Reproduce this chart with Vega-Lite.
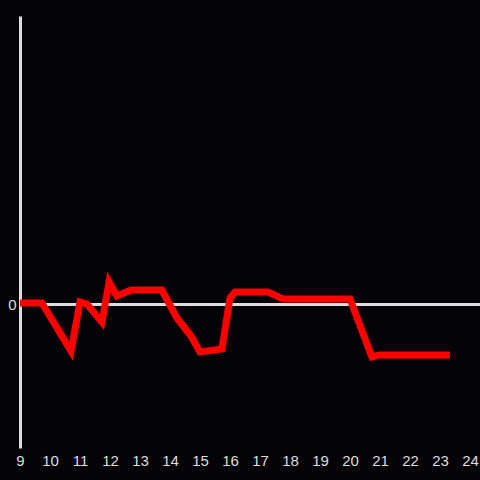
{
  "$schema": "https://vega.github.io/schema/vega-lite/v6.json",
  "width": 460,
  "height": 432,
  "autosize": {"type": "none"},
  "padding": {"left": 20, "top": 16, "right": 0, "bottom": 32},
  "background": "#050308",
  "config": {"view": {"stroke": null}},
  "data": {"values": [
    {"t": 9.0, "v": 1},
    {"t": 9.73, "v": 1},
    {"t": 10.7, "v": -47},
    {"t": 11.0, "v": 2},
    {"t": 11.23, "v": 0},
    {"t": 11.73, "v": -18},
    {"t": 11.97, "v": 22},
    {"t": 12.23, "v": 8},
    {"t": 12.7, "v": 14},
    {"t": 13.73, "v": 14},
    {"t": 14.23, "v": -14},
    {"t": 14.7, "v": -32},
    {"t": 15.0, "v": -48},
    {"t": 15.73, "v": -45},
    {"t": 16.0, "v": 6},
    {"t": 16.17, "v": 12},
    {"t": 17.27, "v": 12},
    {"t": 17.77, "v": 5},
    {"t": 20.0, "v": 5},
    {"t": 20.73, "v": -53},
    {"t": 20.97, "v": -51},
    {"t": 23.33, "v": -51}
  ]},
  "mark": {"type": "line", "color": "#ff0000", "strokeWidth": 7, "strokeJoin": "miter", "clip": true},
  "encoding": {
    "x": {
      "field": "t", "type": "quantitative",
      "scale": {"domain": [9, 24.333], "nice": false, "zero": false},
      "axis": {
        "title": null, "values": [9,10,11,12,13,14,15,16,17,18,19,20,21,22,23,24],
        "format": "d", "domain": false, "ticks": false, "grid": false,
        "labelFlush": false, "labelColor": "#dddddd", "labelFontSize": 15,
        "labelFont": "Liberation Sans", "labelPadding": 5
      }
    },
    "y": {
      "field": "v", "type": "quantitative",
      "scale": {"domain": [-144, 288], "nice": false, "zero": false},
      "axis": {
        "title": null, "values": [0], "domain": true, "domainColor": "#dddddd",
        "domainWidth": 3, "ticks": false, "grid": true, "gridColor": "#dddddd",
        "gridWidth": 3, "gridOpacity": 1, "labelColor": "#dddddd", "labelFontSize": 15,
        "labelFont": "Liberation Sans", "labelPadding": 4
      }
    }
  }
}
